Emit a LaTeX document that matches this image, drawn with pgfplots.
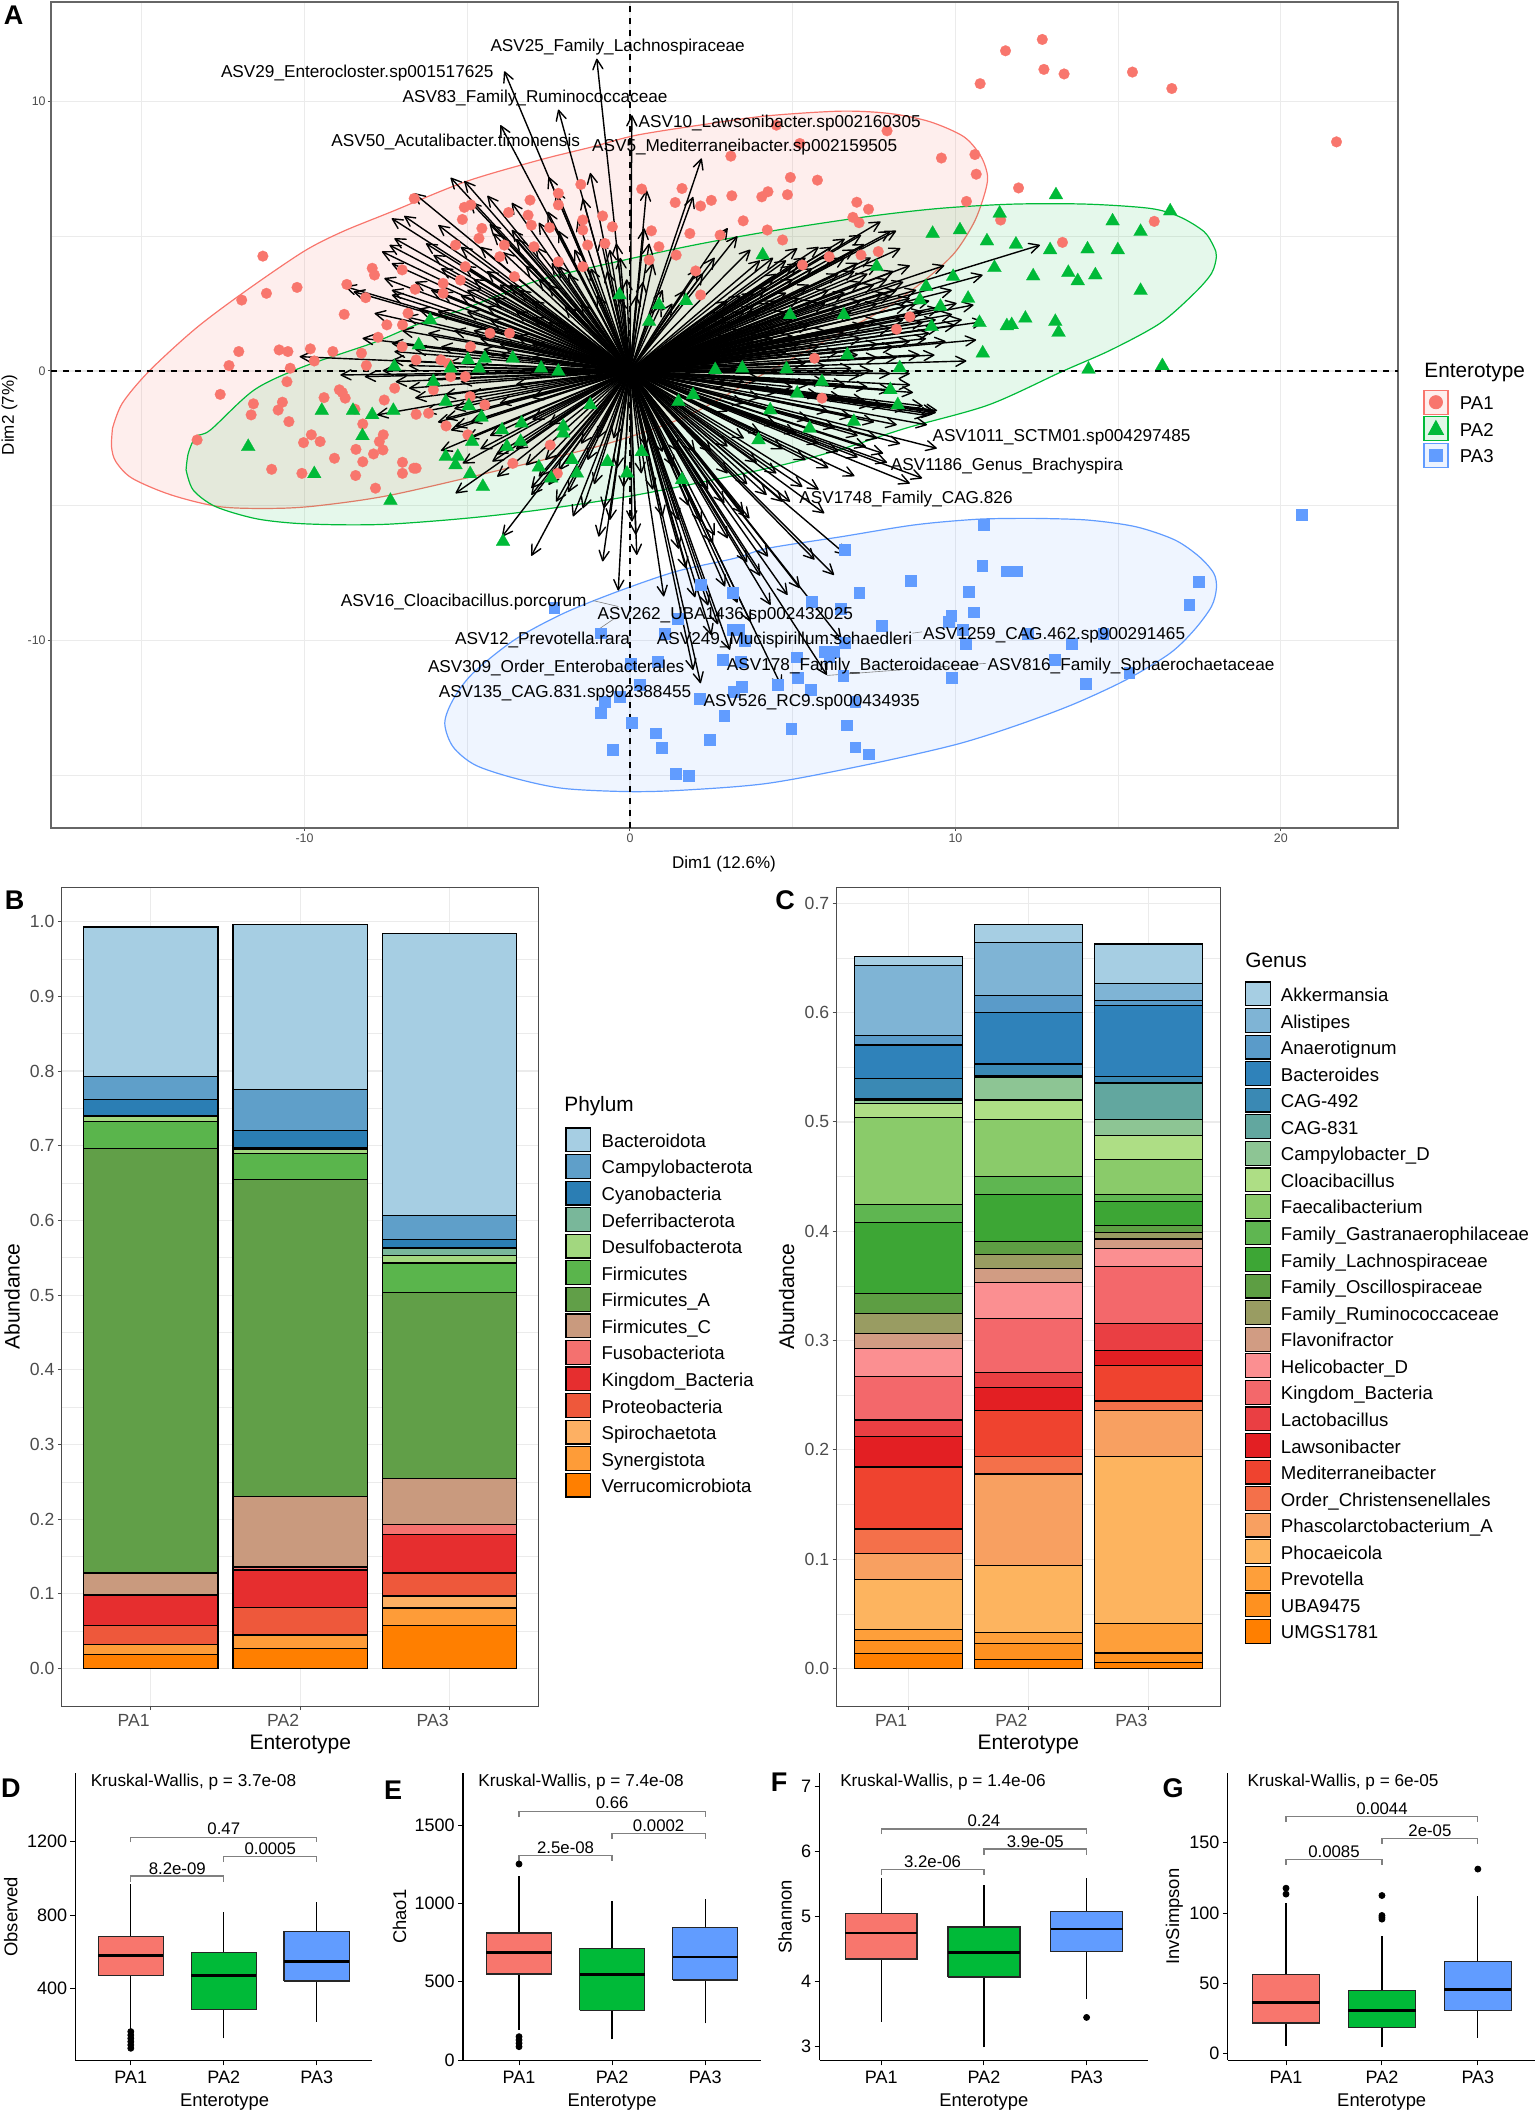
\documentclass[border=0pt]{standalone}
\usepackage{fontspec}
\setmainfont{Liberation Sans}
\usepackage{pgfplots}
\usepackage{pgfplotstable}
\pgfplotsset{compat=1.18}
\usetikzlibrary{arrows.meta}

\definecolor{cPA1}{HTML}{F8766D}
\definecolor{cPA2}{HTML}{00BA38}
\definecolor{cPA3}{HTML}{619CFF}
\definecolor{gridc}{gray}{0.92}
\definecolor{tickc}{gray}{0.30}

% phylum colours
\definecolor{b01}{HTML}{A6CEE3}\definecolor{b02}{HTML}{5F9FC9}\definecolor{b03}{HTML}{2B7EB4}
\definecolor{b04}{HTML}{79B79A}\definecolor{b05}{HTML}{A2D77F}\definecolor{b06}{HTML}{5AB54C}
\definecolor{b07}{HTML}{619F48}\definecolor{b08}{HTML}{C99A7E}\definecolor{b09}{HTML}{F4716F}
\definecolor{b10}{HTML}{E62E2F}\definecolor{b11}{HTML}{EE583B}\definecolor{b12}{HTML}{FDB063}
\definecolor{b13}{HTML}{FE9C38}\definecolor{b14}{HTML}{FF7F00}
% genus colours
\definecolor{c01}{HTML}{A6CEE3}\definecolor{c02}{HTML}{7FB4D5}\definecolor{c03}{HTML}{5A9BC9}
\definecolor{c04}{HTML}{2F82BA}\definecolor{c05}{HTML}{3A89B4}\definecolor{c06}{HTML}{62A79F}
\definecolor{c07}{HTML}{8DC594}\definecolor{c08}{HTML}{AEDE85}\definecolor{c09}{HTML}{8ACB6A}
\definecolor{c10}{HTML}{5FB651}\definecolor{c11}{HTML}{3DA635}\definecolor{c12}{HTML}{5D9E43}
\definecolor{c13}{HTML}{999C62}\definecolor{c14}{HTML}{D19C83}\definecolor{c15}{HTML}{FB8F91}
\definecolor{c16}{HTML}{F3686B}\definecolor{c17}{HTML}{EA3F43}\definecolor{c18}{HTML}{E31F23}
\definecolor{c19}{HTML}{EF432F}\definecolor{c20}{HTML}{F4704A}\definecolor{c21}{HTML}{F8A061}
\definecolor{c22}{HTML}{FDB45F}\definecolor{c23}{HTML}{FE9F3A}\definecolor{c24}{HTML}{FE9120}
\definecolor{c25}{HTML}{FF7F00}

\newcommand{\fs}[1]{\fontsize{#1}{#1}\selectfont}

\pgfplotstableread[row sep=\\]{x y\\
-11.28 4.26\\-11.93 2.63\\-11.17 2.88\\-10.23 3.1\\-8.7 3.21\\-7.92 3.81\\-7.85 3.56\\-7.0 3.75\\-8.78 2.1\\-8.12 2.72\\-6.6 3.03\\-7.47 1.71\\-7.74 1.25\\-6.99 1.71\\-6.82 2.14\\
-12.02 .72\\-12.32 .2\\-10.78 .78\\-10.51 .72\\-9.82 .82\\-9.13 .72\\-10.44 .1\\-9.7 .37\\-8.25 .66\\-8.1 .2\\-12.59 -.87\\-11.57 -1.22\\-10.68 -1.16\\-11.64 -1.63\\-10.81 -1.45\\-10.48 -1.88\\
-10.54 -.4\\-9.4 -.99\\-8.93 -.7\\-8.75 -1.01\\-8.84 -.8\\-8.45 -1.42\\-7.55 -1.08\\-7.23 -.64\\-8.21 -1.97\\-6.57 -1.61\\-6.19 -1.57\\-5.65 -2.04\\
-13.3 -2.56\\-10.03 -2.66\\-9.79 -2.37\\-9.52 -2.62\\-9.08 -3.24\\-8.42 -2.91\\-8.21 -3.37\\-7.88 -3.08\\-7.7 -2.62\\-7.58 -2.37\\-7.59 -2.93\\-11.01 -3.65\\-10.08 -3.8\\-8.43 -3.88\\-6.99 -3.39\\-6.99 -3.8\\-6.64 -3.61\\-6.57 -3.61\\-7.82 -4.35\\-2.45 -2.75\\-3.6 -3.43\\-2.23 -3.8\\-4.98 -2.37\\
-6.63 6.4\\-5.09 6.07\\-5.15 5.62\\-4.55 5.29\\-4.64 4.92\\-4.89 6.16\\-3.07 6.34\\-3.73 5.88\\-3.13 5.78\\-3.03 5.41\\-2.47 5.32\\-2.2 6.59\\-2.2 6.16\\-1.51 6.92\\-1.45 5.23\\-.84 5.75\\-.54 5.35\\-.77 4.73\\-1.3 4.67\\
.36 6.75\\1.6 6.77\\1.39 6.25\\2.17 6.12\\2.5 6.33\\3.13 6.5\\3.1 7.97\\3.48 5.57\\1.84 5.1\\2.77 5.04\\.66 5.2\\.89 4.61\\1.42 4.3\\.59 4.12\\2.02 3.71\\2.17 2.82\\4.05 6.46\\4.22 5.23\\
-1.45 3.87\\-2.2 4.05\\-2.95 4.61\\-3.86 4.67\\-4.0 4.24\\-5.36 4.67\\-5.74 3.25\\-5.74 2.88\\-5.21 3.37\\-5.06 3.87\\-3.55 3.5\\-1.45 5.6\\-5.81 .41\\-5.51 -.21\\-5.06 -.21\\-6.04 -.7\\-4.91 -.95\\-4.46 -1.26\\-5.59 .28\\-3.7 1.4\\-6.57 .41\\-7.0 .9\\-4.3 1.4\\-4.9 .9\\
12.67 12.3\\11.54 11.88\\12.72 11.19\\13.34 11.02\\10.76 10.66\\15.44 11.09\\16.65 10.48\\21.71 8.5\\4.5 9.12\\7.9 8.91\\5.22 8.44\\9.57 7.9\\10.6 8.03\\10.64 7.3\\11.94 6.79\\4.93 7.18\\5.76 7.08\\4.24 6.65\\4.84 6.54\\6.97 6.26\\7.33 6.0\\10.34 6.29\\6.85 5.7\\7.04 5.5\\11.39 5.6\\16.11 5.55\\13.29 4.77\\4.69 4.86\\7.63 4.43\\7.1 4.3\\6.12 4.24\\5.3 3.93\\8.6 2.01\\8.19 1.55\\5.67 .47\\5.9 -1.01\\
}\ptsPAone

\pgfplotstableread[row sep=\\]{x y\\
13.09 6.53\\16.6 5.93\\11.36 5.85\\14.83 5.56\\15.69 5.17\\10.14 5.23\\9.3 5.1\\10.97 4.82\\11.86 4.7\\12.91 4.49\\14.06 4.52\\14.99 4.49\\11.2 3.83\\12.39 3.52\\13.47 3.65\\13.76 3.34\\14.3 3.56\\15.69 2.98\\9.93 3.5\\9.1 3.13\\7.58 3.87\\10.39 2.69\\9.54 2.39\\8.91 2.63\\12.15 1.95\\13.07 1.83\\13.17 1.43\\11.58 1.67\\11.73 1.71\\10.74 1.79\\9.27 1.64\\10.84 .66\\6.68 .59\\14.09 .06\\16.36 .19\\8.29 .11\\4.81 .07\\5.9 -.4\\8.0 -.7\\8.23 -1.26\\6.88 -1.88\\4.31 -1.45\\6.57 2.08\\4.92 2.08\\5.14 -.83\\5.52 -2.13\\
4.08 4.3\\-.32 2.82\\.89 2.45\\1.72 2.6\\.59 1.83\\-6.14 1.89\\-6.49 .96\\-7.24 .16\\-6.04 -.4\\-4.98 .41\\-4.64 .1\\-4.46 .47\\-5.51 .1\\-5.66 -1.14\\-4.95 -1.3\\-4.56 -1.72\\-7.27 -1.47\\-9.47 -1.47\\-8.51 -1.47\\-7.92 -1.63\\-3.33 -1.94\\-2.73 .1\\-2.2 -.02\\-1.22 -1.26\\1.49 -1.14\\1.94 -.89\\2.62 .04\\3.45 .1\\-3.6 .47\\-2.05 -2.06\\
-11.73 -2.81\\-9.7 -3.82\\-8.22 -2.41\\-7.36 -4.81\\-5.66 -3.18\\-5.29 -3.18\\-5.36 -3.49\\-4.91 -3.82\\-4.52 -4.29\\-4.85 -2.62\\-3.93 -2.19\\-3.78 -2.81\\-3.36 -2.62\\-2.8 -3.57\\-2.42 -3.98\\-1.78 -3.3\\-1.63 -3.8\\-.69 -3.37\\-.09 -3.8\\.36 -3.0\\1.6 -4.04\\3.95 -2.56\\-3.9 -6.33\\-2.05 -2.31\\
}\ptsPAtwo

\pgfplotstableread[row sep=\\]{x y\\
-2.33 -8.78\\2.17 -7.92\\3.15 -8.21\\1.46 -9.18\\-.89 -9.73\\1.07 -9.76\\3.15 -9.61\\3.34 -9.61\\3.52 -10.0\\.03 -10.85\\.84 -10.79\\2.85 -10.7\\3.4 -10.79\\.29 -11.65\\3.19 -11.9\\3.43 -11.71\\-.32 -12.08\\-.77 -12.27\\-.9 -12.68\\2.15 -12.17\\2.89 -12.79\\.06 -13.04\\.78 -13.44\\.98 -13.99\\2.45 -13.69\\-.53 -14.06\\1.4 -14.95\\1.81 -15.02\\
10.86 -5.71\\20.64 -5.33\\6.6 -6.62\\10.82 -7.21\\11.56 -7.43\\11.89 -7.43\\8.62 -7.79\\7.04 -8.21\\10.4 -8.19\\17.48 -7.82\\17.18 -8.68\\5.57 -8.56\\6.47 -8.81\\10.55 -8.95\\9.87 -9.09\\9.8 -9.3\\7.73 -9.45\\10.22 -9.61\\10.31 -10.13\\12.22 -9.74\\13.58 -10.12\\14.54 -9.74\\6.6 -10.07\\5.97 -10.42\\6.27 -10.42\\6.12 -10.6\\5.11 -10.62\\5.14 -11.38\\6.55 -11.3\\4.54 -11.65\\5.54 -11.81\\13.04 -10.7\\9.89 -11.38\\14.0 -11.59\\15.34 -11.18\\6.92 -12.27\\4.95 -13.28\\6.65 -13.14\\6.92 -13.96\\7.33 -14.22\\
}\ptsPAthree

% arrow tips of the loadings, all starting in the origin
\pgfplotstableread[row sep=\\]{u v\\
-3.86 11.12\\-1.02 11.59\\-2.2 9.7\\-3.98 9.12\\.06 9.49\\2.2 7.89\\-1.22 7.35\\-5.51 7.17\\-5.09 7.05\\-6.63 6.59\\-4.91 6.28\\-4.38 6.5\\-3.63 6.24\\-7.32 5.66\\-6.94 5.75\\-5.89 5.41\\-4.31 5.45\\-3.63 5.23\\-2.5 7.2\\-2.27 6.71\\-1.45 6.4\\-2.53 5.91\\.51 6.71\\1.94 6.46\\.44 5.29\\.59 4.73\\-.42 4.73\\-.62 4.49\\-7.24 4.92\\-7.62 4.43\\-7.39 4.67\\-6.27 4.73\\-6.04 4.3\\-7.32 3.99\\-7.55 3.44\\-7.32 3.0\\-8.75 3.13\\-8.49 2.94\\-7.32 2.82\\-7.85 2.14\\-6.87 2.01\\-6.11 3.0\\-8.22 1.21\\-7.32 1.03\\-10.15 .53\\-8.9 -.15\\-8.15 -.21\\-6.79 -.64\\-7.77 -1.63\\-5.66 -1.76\\-5.36 -2.06\\-7.24 .72\\2.24 3.62\\.96 2.45\\
12.6 4.67\\10.84 3.56\\9.66 3.91\\8.6 3.91\\7.7 5.54\\8.18 5.2\\8.0 5.17\\8.31 4.55\\7.1 5.04\\10.56 2.45\\10.87 1.83\\9.89 3.0\\10.04 2.51\\10.64 1.15\\10.34 .37\\9.36 .59\\8.61 -.52\\7.07 -.17\\9.44 -1.47\\9.13 -2.0\\7.4 -1.26\\5.14 4.55\\
-3.93 -6.15\\-3.03 -6.86\\-.84 -7.07\\.21 -6.83\\-.36 -8.15\\1.04 -8.37\\-.96 -6.15\\.18 -6.08\\1.72 -7.32\\3.07 -10.35\\1.94 -11.1\\2.17 -11.59\\2.92 -8.0\\3.67 -5.47\\2.55 -6.39\\3.0 -6.21\\1.49 -5.53\\1.34 -3.55\\.06 -5.59\\-1.75 -5.4\\-2.27 -4.85\\-1.45 -5.1\\-3.03 -4.6\\-3.03 -4.35\\-5.36 -4.54\\-4.08 -3.92\\-5.14 -3.43\\-4.23 -3.36\\-5.81 -2.96\\-.62 -5.53\\-2.8 -3.92\\-2.5 -4.23\\
9.43 -2.87\\8.98 -3.98\\8.6 -4.17\\7.78 -3.06\\7.25 -2.81\\5.97 -5.28\\4.92 -4.85\\4.69 -4.85\\6.65 -6.83\\6.27 -7.57\\5.67 -7.0\\4.84 -8.31\\5.22 -8.06\\6.5 -9.98\\6.05 -11.28\\4.66 -11.71\\4.32 -8.68\\4.24 -6.89\\
5 3.9\\5.4 4.2\\5.8 4.6\\6.2 4.2\\6.6 4.9\\6.9 4.5\\7.2 4.7\\7.4 4.2\\7.6 3.9\\6.4 3.6\\6.9 3.7\\7.1 3.3\\7.5 3.2\\7.9 3.4\\8.1 3.7\\8.4 3.3\\8.8 3.0\\9.2 2.6\\8.5 2.4\\8.0 2.8\\7.6 2.5\\7.1 2.6\\6.6 2.9\\6.1 3.0\\5.5 3.2\\5 3.4\\4.5 3.6\\4 4.1\\3.7 4.5\\3.3 5.0\\3 5.3\\2.6 4.2\\2.1 3.8\\1.7 3.0\\1.3 2.5\\1 3.0\\.7 4.0\\.4 3.3\\.2 2.8\\-.1 3.4\\-.3 2.7\\
9.5 2.3\\9.9 2.1\\10.2 1.9\\9.5 1.6\\9.0 1.8\\8.4 1.9\\8 1.6\\7.6 1.9\\7.2 1.7\\6.8 2.2\\6.4 2.4\\6 2.5\\5.6 2.6\\5.2 2.7\\4.8 2.9\\9.7 1.1\\9.1 1.2\\8.6 1.1\\8.1 .9\\7.6 1\\7.1 1.2\\6.6 1.4\\6 1.5\\5.5 1.7\\5 1.9\\8.9 .6\\8.2 .5\\7.6 .5\\7 .6\\6.4 .7\\5.8 .9\\5.2 1\\8.6 -.1\\8 -.1\\7.4 .01\\6.8 .1\\6 .2\\5.4 .3\\
8.7 -.8\\8 -.7\\7.3 -.6\\6.6 -.5\\6 -.4\\9.0 -1.3\\9.3 -1.6\\8.5 -1.4\\7.8 -1.3\\7.2 -1.1\\6.5 -1\\5.8 -.9\\9.35 -1.5\\9.4 -1.55\\9.1 -1.65\\8.2 -2\\7.5 -1.9\\6.8 -1.7\\6.1 -1.5\\8.3 -2.7\\7.6 -2.5\\7 -2.4\\6.3 -2.1\\5.5 -1.8\\7 -3.2\\6.4 -3.0\\5.8 -2.7\\5.1 -2.3\\7.9 -3.4\\6.9 -3.9\\6.1 -3.6\\5.4 -3.3\\4.7 -2.9\\5.3 -4.3\\5.8 -4.4\\4.5 -3.8\\3.9 -3.4\\4.2 -4.6\\3.6 -4.2\\3 -3.8\\3.5 -5.3\\2.9 -4.9\\2.4 -4.4\\2.2 -5.6\\1.8 -5\\2.6 -6.1\\
4.0 -7.6\\3.6 -7.1\\3.3 -8.6\\3.7 -9.3\\2.4 -8.7\\2.0 -8.4\\2.5 -9.8\\2.7 -9.4\\1.5 -6.6\\1 -5.4\\.7 -4.4\\.35 -3.8\\-.2 -4.3\\-.4 -3.6\\-.8 -5.1\\-1.1 -4.2\\-1.3 -3.3\\-1.9 -4.5\\-2.2 -3.7\\-2.6 -3.3\\-3.2 -3.5\\-3.5 -2.9\\-4.1 -3.1\\-4.6 -2.9\\-4.3 -2.4\\-5 -2.5\\-5.5 -2.2\\-4.9 -1.9\\-5.9 -1.9\\-6.3 -1.5\\-5.4 -1.4\\-6.6 -1\\-5.7 -.9\\-4.9 -.9\\-7.2 -.4\\-6.2 -.3\\-5.2 -.4\\-7.6 .01\\-6.8 .2\\-5.6 .3\\-4.7 .1\\
-7.3 .4\\-6.6 .8\\-5.8 .9\\-7 1.5\\-6.2 1.4\\-5.4 1.5\\-4.6 1.2\\-6.5 2.3\\-5.9 2.2\\-5 2.2\\-4.3 1.9\\-6.6 3.3\\-5.8 2.9\\-5 3\\-4.2 2.7\\-3.5 2.2\\-5.8 3.8\\-5.1 3.9\\-4.4 3.7\\-3.7 3.2\\-3 2.6\\-5.2 4.6\\-4.6 4.6\\-3.9 4.4\\-3.2 3.9\\-2.5 3.2\\-4.2 5.1\\-3.5 4.9\\-2.9 4.6\\-2.2 3.9\\-2.8 5.5\\-2.2 5.2\\-1.7 4.5\\-1.2 3.8\\-1.6 5.6\\-.9 4.9\\-.7 3.7\\-.3 4.2\\
3 2\\3.2 1.8\\3.5 2.2\\3.8 2.4\\4 2.2\\4.3 2.5\\4.5 2.6\\4.8 2.2\\2.8 2.2\\3 2.6\\3.4 2.8\\3.8 2.9\\4.2 3.1\\2.5 1.6\\3 1.3\\3.5 1.5\\4 1.6\\4.5 1.7\\3.2 1\\3.8 1.1\\4.4 1.2\\5 1.3\\3 .6\\3.6 .7\\4.2 .8\\4.8 .7\\
9.2 1.4\\9.4 1.9\\10 1.7\\9 2.2\\8.8 2.5\\8.6 2.7\\8.2 3.0\\7.8 2.9\\7.3 3.6\\7 4.0\\6.6 4.2\\6.2 4.6\\5.6 3.8\\5.2 4.0\\4.8 4.1\\4.4 4.2\\
-3 1\\-3.5 1.3\\-4 1\\-3 .5\\-4 .6\\-3.5 -.5\\-3 -1\\-4 -1.2\\-3 -1.8\\-2.5 -2\\-3.5 -2\\-2 1.5\\-2.5 1.8\\-3 2\\-2 2.4\\-1.5 2.5\\-1 2.8\\-4.5 .8\\-4.8 1.5\\-4.4 2.4\\-5.2 2.8\\-4.8 3.4\\-4 3.2\\-3.4 3\\-2.8 3.4\\-2.4 4\\-1.9 3.6\\
-1 -2.5\\-1.5 -2.7\\-.5 -2.5\\.5 -2.8\\1 -3\\1.5 -3\\2 -3\\2.5 -3\\3 -2.8\\3.5 -2.5\\4 -2.3\\4.5 -2\\3 -1.5\\3.5 -1.2\\4 -1\\4.5 -.8\\5 -.6\\5.5 -.5\\3 -.5\\3.5 -.4\\4 -.3\\
}\arrowsA

% phylum, segment heights per enterotype
\pgfplotstableread{
x  verr  syne  spir  prot  king  fuso  firc  fira  firm  desu  defe  cyan  camp  bact
1 .019 .013 0 .026 .040 .001 .029 .568 .037 .006 .002 .021 .031 .200
2 .027 .018 0 .037 .050 .004 .094 .425 .035 .005 .002 .023 .055 .221
3 .058 .023 .016 .031 .052 .013 .061 .249 .040 .010 .010 .011 .033 .377
}\tabB

% genus, segment heights per enterotype
\pgfplotstableread{
x g25 g24 g23 g22 g21 g20 g19 g18 g17 g16 g15 g14 g13 g12 g11 g10 g09 g08 g07 g06 g05 g04 g03 g02 g01
1 .0137 .012 .010 .0457 .0236 .0226 .0567 .0279 .0152 .0394 .0263 .0131 .0189 .0179 .065 .0164 .0798 .0126 .0032 .0015 .0179 .031 .0084 .0641 .0084
2 .0084 .0142 .01 .0614 .084 .0163 .0415 .021 .0142 .0494 .033 .0127 .0126 .0121 .043 .0163 .052 .0179 .021 .001 .011 .0468 .0162 .0484 .0163
3 .0058 .0084 .0268 .1528 .0425 .0084 .0326 .0137 .0247 .0519 .0163 .009 .0057 .0069 .0215 .0068 .0315 .0221 .0147 .0336 .0058 .0651 .0042 .0158 .0362
}\tabC

\pgfplotsset{
  keyone/.style={legend image code/.code={
    \draw[cPA1,fill=cPA1!12,line width=.6pt] (0pt,-4.8pt) rectangle (12pt,7.1pt);
    \fill[cPA1] (6pt,1.15pt) circle (3.3pt); \path[draw=none,fill=none] (0,0)--(18pt,0);}},
  keytwo/.style={legend image code/.code={
    \draw[cPA2,fill=cPA2!12,line width=.6pt] (0pt,-4.8pt) rectangle (12pt,7.1pt);
    \fill[cPA2] (2.2pt,-1.75pt)--(9.8pt,-1.75pt)--(6pt,5.25pt)--cycle; \path[draw=none,fill=none] (0,0)--(18pt,0);}},
  keythree/.style={legend image code/.code={
    \draw[cPA3,fill=cPA3!12,line width=.6pt] (0pt,-4.8pt) rectangle (12pt,7.1pt);
    \fill[cPA3] (2.9pt,-1.95pt) rectangle (9.1pt,4.25pt); \path[draw=none,fill=none] (0,0)--(18pt,0);}},
  stackkey/.style={legend image code/.code={
    \draw[##1,line width=.6pt] (0pt,-4.8pt) rectangle (12.4pt,7.1pt); \path[draw=none,fill=none] (0,0)--(17.8pt,0);}},
  barpanel/.style={scale only axis, ybar stacked, bar width=0.9, xmin=.405, xmax=3.597,
    xtick={1,2,3}, xticklabels={PA1,PA2,PA3}, xtick pos=bottom, ytick pos=left,
    xticklabel style={xshift=-8.5pt, font=\fs{8.8}, text=tickc, inner sep=1pt, yshift=-1pt},
    yticklabel style={font=\fs{8.8}, text=tickc, inner sep=1.5pt},
    tick align=outside, major tick length=2pt, tick style={draw=black!70, line width=.5pt},
    axis line style={draw=black!70, line width=.5pt},
    xmajorgrids, ymajorgrids, yminorgrids, major grid style={gridc,line width=.6pt},
    minor grid style={gridc,line width=.3pt}, minor tick length=0pt,
    label style={font=\fs{10.5}},
    xlabel={Enterotype}, ylabel={Abundance},
    every axis plot/.append style={draw=black, line width=.6pt},
    stackkey, reverse legend, legend cell align=left},
  boxpanel/.style={scale only axis, axis x line*=bottom, axis y line*=left,
    xtick={1,2,3}, xticklabels={PA1,PA2,PA3},
    tick align=outside, major tick length=2.5pt, tick style={draw=black, line width=.5pt},
    axis line style={draw=black, line width=.6pt, -},
    tick label style={font=\fs{9}, inner sep=1.5pt},
    xticklabel style={yshift=-1.2pt},
    label style={font=\fs{9.2}},
    xlabel={Enterotype}},
  bracket/.style={draw=gray, line width=.6pt, forget plot},
  outlier/.style={only marks, forget plot, mark=*, mark size=1.5pt, mark options={draw=black,fill=black}}
}

% left, centre, right, colour, lower whisker, q1, median, q3, upper whisker
\newcommand{\bx}[9]{%
  \addplot[forget plot, black, line width=.6pt] coordinates {(#2,#5)(#2,#6)};
  \addplot[forget plot, black, line width=.6pt] coordinates {(#2,#8)(#2,#9)};
  \addplot[forget plot, draw=black!85, fill=#4, line width=.7pt] coordinates {(#1,#6)(#3,#6)(#3,#8)(#1,#8)(#1,#6)};
  \addplot[forget plot, black, line width=1.4pt] coordinates {(#1,#7)(#3,#7)};
}

\begin{document}
\begin{tikzpicture}[x=0.5pt,y=-0.5pt]
\path[use as bounding box] (0,0) rectangle (1536,2110);

% A
\begin{axis}[at={(25.5pt,-1pt)}, anchor=north west, scale only axis, width=673.5pt, height=413pt,
  xmin=-17.79, xmax=23.6, ymin=-16.96, ymax=13.69,
  xtick={-10,0,10,20}, xticklabels={-10,0,10,20}, ytick={-10,0,10}, yticklabels={-10,0,10},
  xtick pos=bottom, ytick pos=left,
  minor xtick={-15,-5,5,15}, minor ytick={-15,-5,5},
  grid=both, major grid style={gridc,line width=.6pt}, minor grid style={gridc,line width=.3pt},
  tick align=outside, major tick length=1.5pt, minor tick length=0pt,
  tick style={draw=black!70, line width=.5pt},
  tick label style={font=\fs{6.2}, text=tickc, inner sep=1pt},
  axis line style={draw=black!60, line width=.7pt},
  label style={font=\fs{8.5}},
  xlabel={Dim1 (12.6\%)}, ylabel={Dim2 (7\%)},
  xlabel style={at={(axis description cs:.4996,-.0439)},anchor=center},
  ylabel style={at={(axis description cs:-.0308,.5)},anchor=center},
  legend cell align=left,
  legend style={at={(1.0185,.5311)},anchor=north west,draw=none,fill=none,row sep=.78pt,
    inner sep=0pt,font=\fs{9.3},nodes={inner sep=0pt}}]
\addplot[only marks, forget plot, mark=*, mark size=2.7pt, mark options={draw=cPA1,fill=cPA1,line width=.1pt}] table {\ptsPAone};
\addplot[only marks, forget plot, mark=triangle*, mark size=4pt, mark options={draw=cPA2,fill=cPA2,line width=.1pt}] table {\ptsPAtwo};
\addplot[only marks, forget plot, mark=square*, mark size=2.7pt, mark options={draw=cPA3,fill=cPA3,line width=.1pt}] table {\ptsPAthree};
% ellipses
\addplot[forget plot, smooth, draw=cPA1, line width=.6pt, fill=cPA1, fill opacity=.12, draw opacity=1] coordinates {
(-15.9,-2.13)(-15.6,-1.2)(-14.77,0)(-13.34,1.58)(-11.84,2.94)(-10.03,4.43)(-8.83,5.17)(-7.32,5.91)(-5.06,7.02)(-2.8,7.82)(-1.14,8.32)(.21,8.75)(2.47,9.18)(4.25,9.47)(6.5,9.64)(8.0,9.55)(9.21,9.25)(10.26,8.69)(10.79,7.95)(10.99,7.2)(10.87,6.46)(10.56,5.48)(9.96,4.36)(9.06,3.37)(7.85,2.32)(6.05,1.15)(4.24,-.02)(1.72,-1.69)(-.84,-2.75)(-3.55,-3.55)(-7.32,-4.6)(-9.58,-5.0)(-10.93,-5.1)(-12.59,-5.04)(-14.1,-4.6)(-15.3,-3.98)(-15.8,-3.36)(-15.93,-2.81)(-15.9,-2.13)};
\addplot[forget plot, smooth, draw=cPA2, line width=.6pt, fill=cPA2, fill opacity=.1, draw opacity=1] coordinates {
(-13.64,-3.67)(-13.57,-3.05)(-13.34,-2.44)(-12.89,-2.19)(-11.54,-.7)(-10.03,.16)(-7.92,1.03)(-6.57,1.71)(-5.06,2.32)(-2.95,3.31)(-1.3,3.81)(1.72,4.61)(4.24,5.17)(7.25,5.72)(9.5,6.03)(11.77,6.19)(14.03,6.19)(15.99,6.03)(16.89,5.72)(17.64,5.17)(17.94,4.61)(18.02,4.24)(17.87,3.62)(17.34,2.88)(16.29,1.77)(14.78,.78)(13.28,-.02)(11.02,-1.26)(8.46,-2.13)(6.5,-2.9)(4.25,-3.61)(.21,-4.6)(-2.8,-5.16)(-5.06,-5.47)(-7.32,-5.68)(-8.83,-5.71)(-10.33,-5.65)(-11.54,-5.47)(-12.74,-5.03)(-13.42,-4.42)(-13.64,-3.67)};
\addplot[forget plot, smooth, draw=cPA3, line width=.6pt, fill=cPA3, fill opacity=.1, draw opacity=1] coordinates {
(12.37,-5.47)(14.03,-5.53)(15.54,-5.78)(16.74,-6.27)(17.49,-6.89)(17.94,-7.51)(18.02,-8.06)(17.87,-8.74)(17.34,-9.61)(16.59,-10.48)(15.23,-11.47)(13.58,-12.39)(11.77,-13.2)(9.96,-13.88)(7.25,-14.62)(4.25,-15.3)(1.72,-15.55)(0,-15.61)(-2.05,-15.49)(-3.55,-15.11)(-4.76,-14.62)(-5.44,-13.94)(-5.69,-13.07)(-5.44,-12.21)(-4.83,-11.22)(-3.55,-9.98)(-2.05,-9.0)(-.39,-8.19)(1.42,-7.44)(3.22,-6.95)(4.24,-6.58)(6.5,-6.15)(8.76,-5.71)(10.72,-5.5)(12.37,-5.47)};
\addplot[forget plot, black, dashed, line width=.6pt] coordinates {(-17.79,0)(23.6,0)};
\addplot[forget plot, black, dashed, line width=.6pt] coordinates {(0,-16.96)(0,13.69)};
% loadings
\addplot[forget plot, black, line width=.7pt, quiver={u=\thisrow{u},v=\thisrow{v},
   every arrow/.append style={-{Straight Barb[length=5pt,width=5pt,round]}}}]
   table[x expr=0,y expr=0] {\arrowsA};
% repel segments
\addplot[forget plot, gray, line width=.3pt] coordinates {(-1.14,-8.52)(-.36,-8.74)};
\addplot[forget plot, gray, line width=.3pt] coordinates {(-.92,-9.55)(-.47,-9.18)};
\addplot[forget plot, gray, line width=.3pt] coordinates {(8.68,-9.73)(8.98,-9.68)};
\addplot[forget plot, gray, line width=.3pt] coordinates {(6.05,-11.3)(10.94,-10.85)};
\addlegendimage{keyone}\addlegendentry{PA1}
\addlegendimage{keytwo}\addlegendentry{PA2}
\addlegendimage{keythree}\addlegendentry{PA3}
\end{axis}
% labels of the loadings, above the points
\begin{scope}[every node/.style={anchor=west,font=\fs{8.6},inner sep=0pt}]
\node at (490.1,47.2) {ASV25\_Family\_Lachnospiraceae};
\node at (220.6,73.3) {ASV29\_Enterocloster.sp001517625};
\node at (402.3,97.9) {ASV83\_Family\_Ruminococcaceae};
\node at (638.2,122.7) {ASV10\_Lawsonibacter.sp002160305};
\node at (591.7,146.9) {ASV5\_Mediterraneibacter.sp002159505};
\node at (331,141.5) {ASV50\_Acutalibacter.timonensis};
\node at (932.2,437.4) {ASV1011\_SCTM01.sp004297485};
\node at (890.5,466.3) {ASV1186\_Genus\_Brachyspira};
\node at (799,499.4) {ASV1748\_Family\_CAG.826};
\node at (340.4,602.4) {ASV16\_Cloacibacillus.porcorum};
\node at (597.2,615.3) {ASV262\_UBA1436.sp002432025};
\node at (454.7,639.6) {ASV12\_Prevotella.rara};
\node at (656.5,639.6) {ASV249\_Mucispirillum.schaedleri};
\node at (922.7,635.5) {ASV1259\_CAG.462.sp900291465};
\node at (427.6,668.4) {ASV309\_Order\_Enterobacterales};
\node at (726.5,665.7) {ASV178\_Family\_Bacteroidaceae};
\node at (987.2,665.7) {ASV816\_Family\_Sphaerochaetaceae};
\node at (438.4,693.5) {ASV135\_CAG.831.sp902388455};
\node at (703.3,702.1) {ASV526\_RC9.sp000434935};
\end{scope}

% B
\begin{axis}[barpanel, at={(30.9pt,-443.5pt)}, anchor=north west, width=238.5pt, height=409.5pt,
  ymin=-.0502, ymax=1.0465,
  ytick={0,.1,...,1.01}, yticklabels={0.0,0.1,0.2,0.3,0.4,0.5,0.6,0.7,0.8,0.9,1.0},
  minor ytick={.05,.15,...,1.01},
  xlabel style={at={(axis description cs:.5,-.0464)},anchor=center},
  ylabel style={at={(axis description cs:-.1044,.5)},anchor=center},
  legend style={at={(1.055,.707)},anchor=north west,draw=none,fill=none,row sep=.78pt,
    inner sep=0pt,font=\fs{9.3},nodes={inner sep=0pt}}]
\addplot[fill=b14] table[x=x,y=verr] {\tabB}; \addlegendentry{Verrucomicrobiota}
\addplot[fill=b13] table[x=x,y=syne] {\tabB}; \addlegendentry{Synergistota}
\addplot[fill=b12] table[x=x,y=spir] {\tabB}; \addlegendentry{Spirochaetota}
\addplot[fill=b11] table[x=x,y=prot] {\tabB}; \addlegendentry{Proteobacteria}
\addplot[fill=b10] table[x=x,y=king] {\tabB}; \addlegendentry{Kingdom\_Bacteria}
\addplot[fill=b09] table[x=x,y=fuso] {\tabB}; \addlegendentry{Fusobacteriota}
\addplot[fill=b08] table[x=x,y=firc] {\tabB}; \addlegendentry{Firmicutes\_C}
\addplot[fill=b07] table[x=x,y=fira] {\tabB}; \addlegendentry{Firmicutes\_A}
\addplot[fill=b06] table[x=x,y=firm] {\tabB}; \addlegendentry{Firmicutes}
\addplot[fill=b05] table[x=x,y=desu] {\tabB}; \addlegendentry{Desulfobacterota}
\addplot[fill=b04] table[x=x,y=defe] {\tabB}; \addlegendentry{Deferribacterota}
\addplot[fill=b03] table[x=x,y=cyan] {\tabB}; \addlegendentry{Cyanobacteria}
\addplot[fill=b02] table[x=x,y=camp] {\tabB}; \addlegendentry{Campylobacterota}
\addplot[fill=b01] table[x=x,y=bact] {\tabB}; \addlegendentry{Bacteroidota}
\end{axis}

% C
\begin{axis}[barpanel, at={(418.3pt,-443.5pt)}, anchor=north west, width=191.7pt, height=409.5pt,
  xmin=.404, xmax=3.596, ymin=-.0343, ymax=.7149,
  ytick={0,.1,...,.71}, yticklabels={0.0,0.1,0.2,0.3,0.4,0.5,0.6,0.7},
  minor ytick={.05,.15,...,.66},
  xlabel style={at={(axis description cs:.5,-.0464)},anchor=center},
  ylabel style={at={(axis description cs:-.1304,.5)},anchor=center},
  legend style={at={(1.0634,.8852)},anchor=north west,draw=none,fill=none,row sep=.78pt,
    inner sep=0pt,font=\fs{9.3},nodes={inner sep=0pt}}]
\addplot[fill=c25] table[x=x,y=g25] {\tabC}; \addlegendentry{UMGS1781}
\addplot[fill=c24] table[x=x,y=g24] {\tabC}; \addlegendentry{UBA9475}
\addplot[fill=c23] table[x=x,y=g23] {\tabC}; \addlegendentry{Prevotella}
\addplot[fill=c22] table[x=x,y=g22] {\tabC}; \addlegendentry{Phocaeicola}
\addplot[fill=c21] table[x=x,y=g21] {\tabC}; \addlegendentry{Phascolarctobacterium\_A}
\addplot[fill=c20] table[x=x,y=g20] {\tabC}; \addlegendentry{Order\_Christensenellales}
\addplot[fill=c19] table[x=x,y=g19] {\tabC}; \addlegendentry{Mediterraneibacter}
\addplot[fill=c18] table[x=x,y=g18] {\tabC}; \addlegendentry{Lawsonibacter}
\addplot[fill=c17] table[x=x,y=g17] {\tabC}; \addlegendentry{Lactobacillus}
\addplot[fill=c16] table[x=x,y=g16] {\tabC}; \addlegendentry{Kingdom\_Bacteria}
\addplot[fill=c15] table[x=x,y=g15] {\tabC}; \addlegendentry{Helicobacter\_D}
\addplot[fill=c14] table[x=x,y=g14] {\tabC}; \addlegendentry{Flavonifractor}
\addplot[fill=c13] table[x=x,y=g13] {\tabC}; \addlegendentry{Family\_Ruminococcaceae}
\addplot[fill=c12] table[x=x,y=g12] {\tabC}; \addlegendentry{Family\_Oscillospiraceae}
\addplot[fill=c11] table[x=x,y=g11] {\tabC}; \addlegendentry{Family\_Lachnospiraceae}
\addplot[fill=c10] table[x=x,y=g10] {\tabC}; \addlegendentry{Family\_Gastranaerophilaceae}
\addplot[fill=c09] table[x=x,y=g09] {\tabC}; \addlegendentry{Faecalibacterium}
\addplot[fill=c08] table[x=x,y=g08] {\tabC}; \addlegendentry{Cloacibacillus}
\addplot[fill=c07] table[x=x,y=g07] {\tabC}; \addlegendentry{Campylobacter\_D}
\addplot[fill=c06] table[x=x,y=g06] {\tabC}; \addlegendentry{CAG-831}
\addplot[fill=c05] table[x=x,y=g05] {\tabC}; \addlegendentry{CAG-492}
\addplot[fill=c04] table[x=x,y=g04] {\tabC}; \addlegendentry{Bacteroides}
\addplot[fill=c03] table[x=x,y=g03] {\tabC}; \addlegendentry{Anaerotignum}
\addplot[fill=c02] table[x=x,y=g02] {\tabC}; \addlegendentry{Alistipes}
\addplot[fill=c01] table[x=x,y=g01] {\tabC}; \addlegendentry{Akkermansia}
\end{axis}

% D
\begin{axis}[boxpanel, at={(37.75pt,-886.5pt)}, anchor=north west, width=148.5pt, height=143.65pt,
  xmin=.405, xmax=3.6, ymin=7.3, ymax=1574.7,
  ytick={400,800,1200}, yticklabels={400,800,1200}, ylabel={Observed},
  xlabel style={at={(axis description cs:.5017,-.144)},anchor=center},
  ylabel style={at={(axis description cs:-.2178,.5)},anchor=center}]
\bx{.65}{1}{1.35}{cPA1}{173}{471}{580}{682}{967}
\addplot[outlier] coordinates {(1,164)(1,145)(1,127)(1,109)(1,91)(1,73)};
\bx{1.65}{2}{2.35}{cPA2}{127}{284}{471}{595}{815}
\bx{2.65}{3}{3.35}{cPA3}{218}{440}{547}{711}{873}
\addplot[bracket] coordinates {(1,1196)(1,1224)(3,1224)(3,1196)};
\addplot[bracket] coordinates {(2,1089)(2,1118)(3,1118)(3,1089)};
\addplot[bracket] coordinates {(1,982)(1,1013)(2,1013)(2,982)};
\begin{scope}[every node/.style={font=\fs{8.4},inner sep=0pt}]
\node at (axis cs:2,1269) {0.47};
\node at (axis cs:2.5,1160) {0.0005};
\node at (axis cs:1.5,1055) {8.2e-09};
\node[anchor=west,font=\fs{8.6}] at (rel axis cs:.05,.968) {Kruskal-Wallis, p = 3.7e-08};
\end{scope}
\end{axis}

% E
\begin{axis}[boxpanel, at={(231.5pt,-886.5pt)}, anchor=north west, width=149pt, height=143.65pt,
  xmin=.398, xmax=3.6, ymin=-2, ymax=1832,
  ytick={0,500,1000,1500}, yticklabels={0,500,1000,1500}, ylabel={Chao1},
  xlabel style={at={(axis description cs:.5,-.144)},anchor=center},
  ylabel style={at={(axis description cs:-.2131,.5)},anchor=center}]
\bx{.65}{1}{1.35}{cPA1}{192}{548}{686}{812}{1176}
\addplot[outlier] coordinates {(1,1251)(1,149)(1,128)(1,107)(1,85)};
\bx{1.65}{2}{2.35}{cPA2}{132}{317}{548}{710}{1018}
\bx{2.65}{3}{3.35}{cPA3}{234}{511}{658}{844}{1027}
\addplot[bracket] coordinates {(1,1551)(1,1585)(3,1585)(3,1551)};
\addplot[bracket] coordinates {(2,1411)(2,1447)(3,1447)(3,1411)};
\addplot[bracket] coordinates {(1,1268)(1,1304)(2,1304)(2,1268)};
\begin{scope}[every node/.style={font=\fs{8.4},inner sep=0pt}]
\node at (axis cs:2,1641) {0.66};
\node at (axis cs:2.5,1496) {0.0002};
\node at (axis cs:1.5,1357) {2.5e-08};
\node[anchor=west,font=\fs{8.6}] at (rel axis cs:.05,.968) {Kruskal-Wallis, p = 7.4e-08};
\end{scope}
\end{axis}

% F
\begin{axis}[boxpanel, at={(409.75pt,-886.5pt)}, anchor=north west, width=164.25pt, height=143.65pt,
  xmin=.399, xmax=3.598, ymin=2.78, ymax=7.2,
  ytick={3,4,5,6,7}, yticklabels={3,4,5,6,7}, ylabel={Shannon},
  xlabel style={at={(axis description cs:.5,-.144)},anchor=center},
  ylabel style={at={(axis description cs:-.105,.5)},anchor=center}]
\bx{.65}{1}{1.35}{cPA1}{3.37}{4.34}{4.74}{5.04}{5.58}
\bx{1.65}{2}{2.35}{cPA2}{2.98}{4.06}{4.44}{4.83}{5.48}
\bx{2.65}{3}{3.35}{cPA3}{3.72}{4.45}{4.80}{5.07}{5.58}
\addplot[outlier] coordinates {(3,3.44)};
\addplot[bracket] coordinates {(1,6.26)(1,6.34)(3,6.34)(3,6.26)};
\addplot[bracket] coordinates {(2,5.94)(2,6.03)(3,6.03)(3,5.94)};
\addplot[bracket] coordinates {(1,5.63)(1,5.72)(2,5.72)(2,5.63)};
\begin{scope}[every node/.style={font=\fs{8.4},inner sep=0pt}]
\node at (axis cs:2,6.47) {0.24};
\node at (axis cs:2.5,6.15) {3.9e-05};
\node at (axis cs:1.5,5.84) {3.2e-06};
\node[anchor=west,font=\fs{8.6}] at (rel axis cs:.062,.968) {Kruskal-Wallis, p = 1.4e-06};
\end{scope}
\end{axis}

% G
\begin{axis}[boxpanel, at={(613.9pt,-886.5pt)}, anchor=north west, width=153.6pt, height=143.65pt,
  xmin=.393, xmax=3.596, ymin=-4.7, ymax=199.6,
  ytick={0,50,100,150}, yticklabels={0,50,100,150}, ylabel={InvSimpson},
  xlabel style={at={(axis description cs:.501,-.144)},anchor=center},
  ylabel style={at={(axis description cs:-.1738,.5)},anchor=center}]
\bx{.65}{1}{1.35}{cPA1}{5.7}{21.8}{36.6}{56.3}{107}
\addplot[outlier] coordinates {(1,117.7)(1,113.5)};
\bx{1.65}{2}{2.35}{cPA2}{4.5}{18.5}{30.9}{44.9}{83.8}
\addplot[outlier] coordinates {(2,112.5)(2,98.3)(2,97)(2,95.7)};
\bx{2.65}{3}{3.35}{cPA3}{11.4}{30.6}{45.8}{65.5}{112.3}
\addplot[outlier] coordinates {(3,131.3)};
\addplot[bracket] coordinates {(1,164.7)(1,168.5)(3,168.5)(3,164.7)};
\addplot[bracket] coordinates {(2,149.3)(2,153.3)(3,153.3)(3,149.3)};
\addplot[bracket] coordinates {(1,134.1)(1,137.9)(2,137.9)(2,134.1)};
\begin{scope}[every node/.style={font=\fs{8.4},inner sep=0pt}]
\node at (axis cs:2,174) {0.0044};
\node at (axis cs:2.5,158.8) {2e-05};
\node at (axis cs:1.5,143.6) {0.0085};
\node[anchor=west,font=\fs{8.6}] at (rel axis cs:.063,.968) {Kruskal-Wallis, p = 6e-05};
\end{scope}
\end{axis}

% legend titles and panel letters
\node[anchor=west,inner sep=0pt,font=\fs{10.4}] at (1424,372) {Enterotype};
\node[anchor=west,inner sep=0pt,font=\fs{10.4}] at (564,1106) {Phylum};
\node[anchor=west,inner sep=0pt,font=\fs{10.4}] at (1245,960) {Genus};
\begin{scope}[every node/.style={font=\bfseries\fs{13.5},inner sep=0pt}]
\node at (13.7,15.7) {A};
\node at (14.7,900) {B};
\node at (785,900) {C};
\node at (10.8,1788) {D};
\node at (393,1790) {E};
\node at (779,1782) {F};
\node at (1173,1788) {G};
\end{scope}
\end{tikzpicture}
\end{document}
